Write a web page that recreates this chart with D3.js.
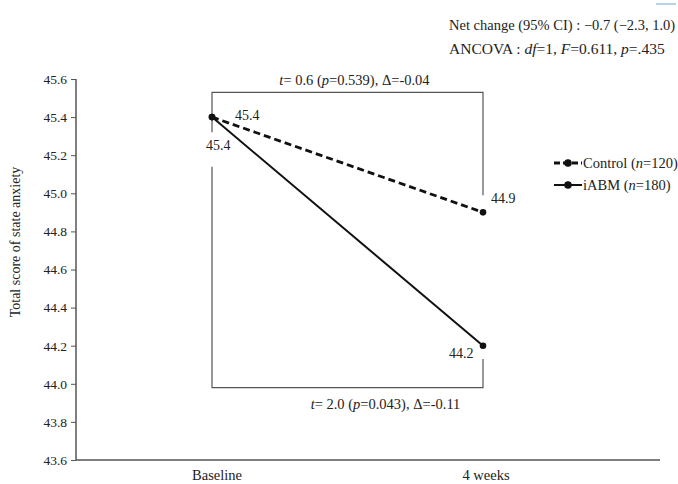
<!DOCTYPE html>
<html>
<head>
<meta charset="utf-8">
<script src="https://cdn.jsdelivr.net/npm/d3@7"></script>
<style>
  body { margin: 0; background: #fff; }
  text { font-family: "Liberation Serif", "Times New Roman", serif; fill: #222; }
</style>
</head>
<body>
<svg id="chart" width="678" height="484"></svg>
<script>
// -- data -- //
const timepoints = ["Baseline", "4 weeks"];
const controlValues = [45.4, 44.9];
const iabmValues = [45.4, 44.2];
const yTicks = [43.6, 43.8, 44.0, 44.2, 44.4, 44.6, 44.8, 45.0, 45.2, 45.4, 45.6];

const svg = d3.select("#chart");
const margin = {left: 76, top: 79};

const xScale = d3.scalePoint().domain(timepoints).range([212 - margin.left, 483 - margin.left]);
const yScale = d3.scaleLinear().domain([43.6, 45.6]).range([381, 0]);

const g = svg.append("g").attr("transform", `translate(${margin.left},${margin.top})`);

// -- axes -- //
const yAxis = d3.axisLeft(yScale).tickValues(yTicks).tickFormat(d3.format(".1f")).tickSize(5).tickPadding(4);
const yG = g.append("g").call(yAxis);
yG.select(".domain").attr("d", `M0,${yScale(45.6)}V${yScale(43.6)}`);
yG.selectAll("line").style("stroke", "#555");
yG.select(".domain").style("stroke", "#555").style("stroke-width", 1.5);
yG.selectAll("text").style("font-size", "13.5px").style("font-family", "Liberation Serif, serif").attr("fill", "#333");

g.append("line")
  .attr("x1", 0).attr("x2", 660 - margin.left)
  .attr("y1", yScale(43.6)).attr("y2", yScale(43.6))
  .style("stroke", "#555").style("stroke-width", 1.5);

g.selectAll(".xlab")
  .data(timepoints)
  .enter()
  .append("text")
  .attr("class", "xlab")
  .attr("x", (d, i) => xScale(d) + (i === 0 ? 5 : 3))
  .attr("y", yScale(43.6) + 20)
  .attr("text-anchor", "middle")
  .style("font-size", "14.5px")
  .text(d => d);

svg.append("text")
  .attr("transform", `translate(20, ${242}) rotate(-90)`)
  .attr("text-anchor", "middle")
  .style("font-size", "14px")
  .text("Total score of state anxiety");

// -- brackets -- //
const bx0 = xScale("Baseline"), bx1 = xScale("4 weeks");
const bracket = d3.line();
g.append("path")
  .attr("d", bracket([[bx0, yScale(45.32)], [bx0, yScale(45.53)], [bx1, yScale(45.53)], [bx1, yScale(44.99)]]))
  .attr("fill", "none").style("stroke", "#555").style("stroke-width", 1.2);
g.append("path")
  .attr("d", bracket([[bx0, yScale(45.14)], [bx0, yScale(43.98)], [bx1, yScale(43.98)], [bx1, yScale(44.13)]]))
  .attr("fill", "none").style("stroke", "#555").style("stroke-width", 1.2);

const topNote = g.append("text").attr("x", (bx0 + bx1) / 2 + 7).attr("y", yScale(45.53) - 7)
  .attr("text-anchor", "middle").style("font-size", "14.5px");
topNote.append("tspan").style("font-style", "italic").text("t");
topNote.append("tspan").text("= 0.6 (");
topNote.append("tspan").style("font-style", "italic").text("p");
topNote.append("tspan").text("=0.539), Δ=-0.04");

const botNote = g.append("text").attr("x", (bx0 + bx1) / 2 + 38).attr("y", yScale(43.98) + 21)
  .attr("text-anchor", "middle").style("font-size", "14.5px");
botNote.append("tspan").style("font-style", "italic").text("t");
botNote.append("tspan").text("= 2.0 (");
botNote.append("tspan").style("font-style", "italic").text("p");
botNote.append("tspan").text("=0.043), Δ=-0.11");

// -- lines -- //
const line = d3.line().x((d, i) => xScale(timepoints[i])).y(d => yScale(d));
g.append("path").datum(iabmValues).attr("d", line)
  .attr("fill", "none").style("stroke", "#111").style("stroke-width", 2);
g.append("path").datum(controlValues).attr("d", line)
  .attr("fill", "none").style("stroke", "#111").style("stroke-width", 2.8).style("stroke-dasharray", "7,4");

[controlValues, iabmValues].forEach(vals => {
  g.selectAll(null).data(vals).enter().append("circle")
    .attr("cx", (d, i) => xScale(timepoints[i]))
    .attr("cy", d => yScale(d))
    .attr("r", 3.3).style("fill", "#111");
});

// -- value labels -- //
const valLabel = (x, y, t) => g.append("text").attr("x", x).attr("y", y).style("font-size", "14px").text(t);
valLabel(bx0 + 23, yScale(controlValues[0]) + 3, controlValues[0].toFixed(1));
valLabel(bx0 - 6, yScale(iabmValues[0]) + 33, iabmValues[0].toFixed(1));
valLabel(bx1 + 8, yScale(controlValues[1]) - 9, controlValues[1].toFixed(1));
valLabel(bx1 - 34, yScale(iabmValues[1]) + 12, iabmValues[1].toFixed(1));

// -- legend -- //
const legend = svg.append("g").attr("transform", "translate(554,163)");
const legendItems = [
  {name: "Control", n: "120", dash: "6,3", w: 2.8},
  {name: "iABM", n: "180", dash: null, w: 2}
];
legendItems.forEach((item, i) => {
  const row = legend.append("g").attr("transform", `translate(0, ${i * 22})`);
  row.append("line").attr("x1", 0).attr("x2", 28).attr("y1", 0).attr("y2", 0)
    .style("stroke", "#111").style("stroke-width", item.w)
    .style("stroke-dasharray", item.dash);
  row.append("circle").attr("cx", 14).attr("cy", 0).attr("r", 3.8).style("fill", "#111");
  const t = row.append("text").attr("x", 29).attr("y", 5).style("font-size", "14.5px");
  t.append("tspan").text(item.name + " (");
  t.append("tspan").style("font-style", "italic").text("n");
  t.append("tspan").text("=" + item.n + ")");
});

// -- header notes -- //
svg.append("text").attr("x", 449).attr("y", 30).style("font-size", "14.5px")
  .text("Net change (95% CI) : −0.7 (−2.3, 1.0)");
const anc = svg.append("text").attr("x", 449).attr("y", 54).style("font-size", "15.5px");
anc.append("tspan").text("ANCOVA : ");
anc.append("tspan").style("font-style", "italic").text("df");
anc.append("tspan").text("=1, ");
anc.append("tspan").style("font-style", "italic").text("F");
anc.append("tspan").text("=0.611, ");
anc.append("tspan").style("font-style", "italic").text("p");
anc.append("tspan").text("=.435");

svg.append("line").attr("x1", 656).attr("x2", 676).attr("y1", 4).attr("y2", 4)
  .style("stroke", "#9cc3e0").style("stroke-width", 1.5);
</script>
</body>
</html>
